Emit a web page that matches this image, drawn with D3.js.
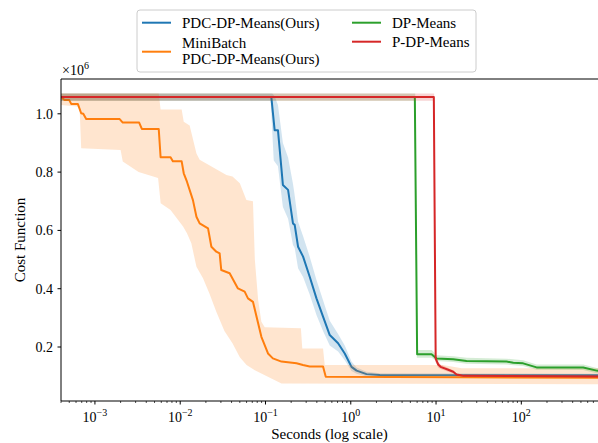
<!DOCTYPE html>
<html>
<head>
<meta charset="utf-8">
<script src="https://cdn.jsdelivr.net/npm/d3@7"></script>
<style>
  body { margin: 0; background: #fff; }
  svg { display: block; }
  text { font-family: "Liberation Serif", "Times New Roman", serif; fill: #000; }
</style>
</head>
<body>
<div id="plot"></div>
<script>
// axis ticks
const xTicks = [1e-3, 1e-2, 1e-1, 1, 10, 100];
const xTickExp = ['\u22123', '\u22122', '\u22121', '0', '1', '2'];
const yTicks = [0.2, 0.4, 0.6, 0.8, 1.0];
const yTickLabels = ['0.2', '0.4', '0.6', '0.8', '1.0'];

const seriesNames = ['PDC-DP-Means(Ours)', 'MiniBatch PDC-DP-Means(Ours)', 'DP-Means', 'P-DP-Means'];
const seriesColors = ['#1f77b4', '#ff7f0e', '#2ca02c', '#d62728'];

// [seconds, cost / 1e6]
const pdcMean = [[4e-4,1.058],[0.117,1.058],[0.128,0.944],[0.140,0.944],[0.160,0.756],[0.184,0.739],[0.210,0.624],[0.220,0.619],[0.241,0.544],[0.276,0.51],[0.330,0.441],[0.396,0.367],[0.473,0.304],[0.567,0.241],[0.71,0.213],[0.85,0.178],[1.02,0.132],[1.17,0.119],[1.53,0.107],[2.19,0.104],[1400,0.103]];
const pdcHi = [[4e-4,1.07],[0.12,1.07],[0.128,1.06],[0.140,1.03],[0.160,0.90],[0.184,0.85],[0.210,0.76],[0.220,0.72],[0.241,0.63],[0.276,0.58],[0.330,0.51],[0.396,0.43],[0.473,0.36],[0.567,0.29],[0.71,0.245],[0.85,0.205],[1.02,0.15],[1.17,0.13],[1.53,0.115],[2.19,0.11],[1400,0.108]];
const pdcLo = [[4e-4,1.045],[0.115,1.045],[0.125,0.84],[0.140,0.82],[0.160,0.68],[0.184,0.64],[0.210,0.55],[0.220,0.54],[0.241,0.47],[0.276,0.44],[0.330,0.38],[0.396,0.31],[0.473,0.255],[0.567,0.205],[0.71,0.185],[0.85,0.155],[1.02,0.118],[1.17,0.108],[1.53,0.1],[2.19,0.097],[1400,0.096]];

const miniMean = [[4e-4,1.058],[4.4e-4,1.047],[5.0e-4,1.047],[5.27e-4,1.034],[6.3e-4,1.034],[6.9e-4,1.002],[7.3e-4,1.0],[7.9e-4,0.982],[1.95e-3,0.982],[2.12e-3,0.970],[3.3e-3,0.970],[3.55e-3,0.948],[5.6e-3,0.948],[5.89e-3,0.851],[7.7e-3,0.851],[8.2e-3,0.837],[1.04e-2,0.837],[1.1e-2,0.796],[1.2e-2,0.767],[1.41e-2,0.704],[1.55e-2,0.647],[1.69e-2,0.624],[2.12e-2,0.607],[2.32e-2,0.544],[2.65e-2,0.527],[2.9e-2,0.521],[3.03e-2,0.464],[3.8e-2,0.453],[4.75e-2,0.401],[5.7e-2,0.390],[6.23e-2,0.367],[7.13e-2,0.355],[8.95e-2,0.235],[0.107,0.178],[0.122,0.161],[0.154,0.150],[0.231,0.144],[0.275,0.138],[0.33,0.133],[0.473,0.133],[0.509,0.098],[20,0.096],[1400,0.094]];
const miniHi = [[4e-4,1.07],[5.6e-3,1.07],[5.89e-3,1.015],[1.04e-2,1.015],[1.1e-2,0.973],[1.29e-2,0.96],[1.55e-2,0.864],[1.69e-2,0.842],[3.48e-2,0.79],[4.1e-2,0.785],[5.0e-2,0.762],[5.97e-2,0.704],[7.13e-2,0.70],[7.5e-2,0.5],[8.2e-2,0.361],[8.95e-2,0.287],[0.098,0.268],[0.26,0.264],[0.27,0.195],[0.473,0.195],[0.495,0.138],[12,0.138],[20,0.127],[1400,0.127]];
const miniLo = [[4e-4,1.03],[6.6e-4,1.024],[6.9e-4,0.882],[2.0e-3,0.876],[2.12e-3,0.836],[3.25e-3,0.80],[5.5e-3,0.78],[5.9e-3,0.693],[7.7e-3,0.670],[1.08e-2,0.613],[1.2e-2,0.59],[1.35e-2,0.556],[1.55e-2,0.475],[1.85e-2,0.436],[2.2e-2,0.384],[2.65e-2,0.321],[3.3e-2,0.255],[4.1e-2,0.213],[5.0e-2,0.165],[6.0e-2,0.138],[7.5e-2,0.12],[0.097,0.104],[0.154,0.075],[1400,0.072]];

const dpMean = [[4e-4,1.058],[5.64,1.058],[6.0,0.175],[8.86,0.175],[10.1,0.161],[15.9,0.158],[22.8,0.152],[67.2,0.150],[80.4,0.146],[105,0.144],[151,0.130],[532,0.130],[765,0.119],[1400,0.117]];
const dpHi = [[4e-4,1.07],[5.7,1.07],[6.05,0.19],[8.9,0.19],[10.1,0.172],[15.9,0.168],[22.8,0.163],[67,0.16],[105,0.155],[151,0.14],[532,0.14],[765,0.128],[1400,0.126]];
const dpLo = [[4e-4,1.045],[5.6,1.045],[5.95,0.163],[8.9,0.163],[10.1,0.152],[15.9,0.149],[22.8,0.143],[67,0.14],[105,0.135],[151,0.122],[532,0.121],[765,0.11],[1400,0.108]];

const pdpMean = [[4e-4,1.058],[9.42,1.058],[9.9,0.16],[10.6,0.14],[11.3,0.132],[13.9,0.122],[15.9,0.115],[17.4,0.106],[21,0.101],[1400,0.099]];
const pdpHi = [[4e-4,1.07],[9.5,1.07],[10,0.17],[10.6,0.15],[11.3,0.14],[13.9,0.128],[15.9,0.12],[17.4,0.11],[21,0.105],[1400,0.103]];
const pdpLo = [[4e-4,1.045],[9.35,1.045],[9.8,0.15],[10.6,0.13],[11.3,0.125],[13.9,0.115],[15.9,0.11],[17.4,0.101],[21,0.097],[1400,0.095]];

const series = [
  { mean: pdcMean, hi: pdcHi, lo: pdcLo },
  { mean: miniMean, hi: miniHi, lo: miniLo },
  { mean: dpMean, hi: dpHi, lo: dpLo },
  { mean: pdpMean, hi: pdpHi, lo: pdpLo }
];

function drawChart() {
  const W = 598, H = 443;
  const left = 61, right = 620, top = 79, bottom = 401;

  const svg = d3.select('#plot').append('svg').attr('width', W).attr('height', H);

  const x = d3.scaleLog().domain([4e-4, 1436]).range([left, right]);
  const y = d3.scaleLinear().domain([0.0148, 1.1194]).range([bottom, top]);

  svg.append('clipPath').attr('id', 'clip')
    .append('rect').attr('x', left).attr('y', top).attr('width', right - left).attr('height', bottom - top);

  const plot = svg.append('g').attr('clip-path', 'url(#clip)');
  const line = d3.line().x(d => x(d[0])).y(d => y(d[1]));

  series.forEach((s, i) => {
    plot.append('path')
      .attr('d', line(s.mean))
      .attr('fill', 'none')
      .attr('stroke', seriesColors[i])
      .attr('stroke-width', 2)
      .attr('stroke-linejoin', 'round');
    // band: upper edge forward, lower edge back
    plot.append('path')
      .attr('d', line(s.hi.concat(s.lo.slice().reverse())) + 'Z')
      .attr('fill', seriesColors[i])
      .attr('fill-opacity', 0.2)
      .attr('stroke', 'none');
  });

  // spines
  svg.append('line').attr('x1', left).attr('x2', left).attr('y1', top).attr('y2', bottom)
    .attr('stroke', '#000').attr('stroke-width', 1);
  svg.append('line').attr('x1', left).attr('x2', W).attr('y1', bottom).attr('y2', bottom)
    .attr('stroke', '#000').attr('stroke-width', 1);
  svg.append('line').attr('x1', left).attr('x2', W).attr('y1', top).attr('y2', top)
    .attr('stroke', '#000').attr('stroke-width', 1);

  // x minor ticks
  const minor = [];
  for (let e = -4; e <= 3; e++) {
    for (let k = 2; k <= 9; k++) {
      const v = k * Math.pow(10, e);
      if (v >= x.domain()[0] && x(v) <= W) minor.push(v);
    }
  }
  svg.selectAll('line.xminor').data(minor).enter().append('line')
    .attr('class', 'xminor')
    .attr('x1', d => x(d)).attr('x2', d => x(d))
    .attr('y1', bottom).attr('y2', bottom + 2)
    .attr('stroke', '#000').attr('stroke-width', 0.7);

  // x major ticks and labels
  xTicks.forEach((t, i) => {
    svg.append('line').attr('x1', x(t)).attr('x2', x(t)).attr('y1', bottom).attr('y2', bottom + 3.5)
      .attr('stroke', '#000').attr('stroke-width', 1);
    const lab = svg.append('text')
      .attr('x', x(t)).attr('y', bottom + 21)
      .attr('text-anchor', 'middle')
      .style('font-size', '14px');
    lab.append('tspan').text('10');
    lab.append('tspan').attr('dy', -6).style('font-size', '10px').text(xTickExp[i]);
  });

  // y ticks
  yTicks.forEach((t, i) => {
    svg.append('line').attr('x1', left - 3.5).attr('x2', left).attr('y1', y(t)).attr('y2', y(t))
      .attr('stroke', '#000').attr('stroke-width', 1);
    svg.append('text')
      .attr('x', left - 8).attr('y', y(t)).attr('dy', '0.35em')
      .attr('text-anchor', 'end')
      .style('font-size', '14px')
      .text(yTickLabels[i]);
  });

  // offset label
  const off = svg.append('text').attr('x', left + 1).attr('y', 75).style('font-size', '14px');
  off.append('tspan').text('\u00d710');
  off.append('tspan').attr('dy', -6).style('font-size', '10px').text('6');

  // axis labels
  svg.append('text')
    .attr('x', (left + W) / 2).attr('y', 439)
    .attr('text-anchor', 'middle')
    .style('font-size', '15px')
    .text('Seconds (log scale)');
  svg.append('text')
    .attr('transform', `translate(25,${(top + bottom) / 2}) rotate(-90)`)
    .attr('text-anchor', 'middle')
    .style('font-size', '15px')
    .text('Cost Function');

  // legend
  const lg = svg.append('g');
  lg.append('rect')
    .attr('x', 137).attr('y', 10).attr('width', 339).attr('height', 62)
    .attr('rx', 3).attr('ry', 3)
    .attr('fill', '#fff').attr('fill-opacity', 0.8)
    .attr('stroke', '#cccccc').attr('stroke-width', 1);

  const entries = [
    { x: 142, y: 22.7, lines: [[seriesNames[0], 22.7]] },
    { x: 142, y: 51.7, lines: [['MiniBatch', 42.5], ['PDC-DP-Means(Ours)', 59]] },
    { x: 352, y: 22.7, lines: [[seriesNames[2], 22.7]] },
    { x: 352, y: 41.7, lines: [[seriesNames[3], 41.7]] }
  ];
  entries.forEach((e, i) => {
    lg.append('line')
      .attr('x1', e.x).attr('x2', e.x + 29).attr('y1', e.y).attr('y2', e.y)
      .attr('stroke', seriesColors[i]).attr('stroke-width', 2);
    e.lines.forEach(([txt, ty]) => {
      lg.append('text')
        .attr('x', e.x + 40).attr('y', ty).attr('dy', '0.35em')
        .style('font-size', '15px')
        .text(txt);
    });
  });
}

drawChart();
</script>
</body>
</html>
